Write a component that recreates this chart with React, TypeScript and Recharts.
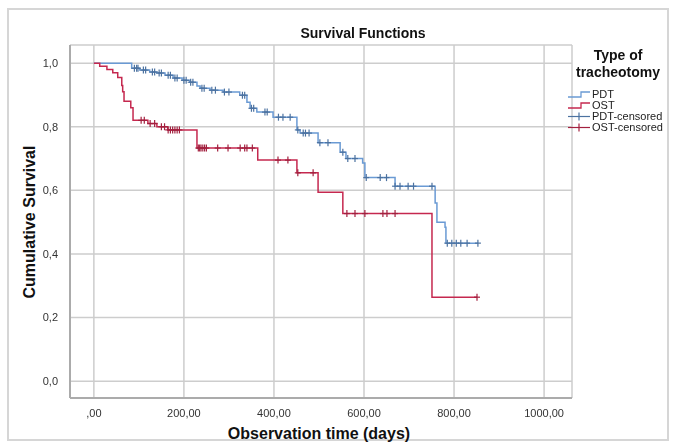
import { ComposedChart, Line, Scatter, XAxis, YAxis, CartesianGrid } from 'recharts';

// Kaplan-Meier steps (days, cumulative survival)
const pdtTimes = [0, 84, 102, 124, 140, 158, 176, 196, 213, 229, 236, 258, 287, 324, 340, 347, 362, 398, 451, 458, 498, 547, 560, 597, 602, 669, 758, 762, 780, 782, 853];
const pdtSurvival = [1.0, 0.984, 0.978, 0.972, 0.969, 0.962, 0.953, 0.946, 0.94, 0.928, 0.921, 0.915, 0.909, 0.899, 0.877, 0.858, 0.846, 0.83, 0.79, 0.78, 0.75, 0.72, 0.7, 0.686, 0.64, 0.613, 0.56, 0.5, 0.484, 0.434, 0.434];

const ostTimes = [0, 13, 29, 42, 53, 62, 64, 67, 82, 87, 120, 140, 164, 229, 364, 451, 498, 553, 751, 851];
const ostSurvival = [1.0, 0.99, 0.98, 0.97, 0.955, 0.93, 0.91, 0.88, 0.86, 0.82, 0.81, 0.8, 0.79, 0.733, 0.695, 0.655, 0.594, 0.527, 0.264, 0.264];

// censored observation times
const pdtCensored = [90, 95, 98, 110, 115, 130, 135, 145, 150, 165, 170, 180, 185, 200, 205, 215, 220, 240, 245, 262, 270, 290, 300, 330, 335, 350, 355, 380, 385, 410, 420, 436, 453, 465, 470, 478, 502, 520, 553, 564, 580, 605, 636, 650, 669, 680, 698, 710, 751, 785, 795, 805, 815, 829, 853];
const ostCensored = [105, 112, 125, 135, 150, 157, 165, 170, 175, 180, 185, 190, 232, 235, 238, 242, 246, 250, 275, 298, 325, 335, 340, 352, 409, 431, 453, 487, 562, 580, 602, 642, 651, 669, 851];

const xTicks = [0, 200, 400, 600, 800, 1000];
const yTicks = [0, 0.2, 0.4, 0.6, 0.8, 1.0];

const PDT_COLOR = '#6a9ad4';
const PDT_MARK = '#4c72a0';
const OST_COLOR = '#c5284f';
const OST_MARK = '#a3203f';
const FONT = '"Liberation Sans", Arial, sans-serif';

const toSteps = (times: number[], surv: number[]) => times.map((t, i) => ({ t, s: surv[i] }));

// value of the step curve at time t
const stepAt = (times: number[], surv: number[], t: number) => {
  let v = surv[0];
  times.forEach((tt, i) => {
    if (tt <= t) v = surv[i];
  });
  return v;
};

const pdtData = toSteps(pdtTimes, pdtSurvival);
const ostData = toSteps(ostTimes, ostSurvival);
const pdtMarks = pdtCensored.map(t => ({ t, s: stepAt(pdtTimes, pdtSurvival, t) }));
const ostMarks = ostCensored.map(t => ({ t, s: stepAt(ostTimes, ostSurvival, t) }));

const fmtX = (v: number) => (v === 0 ? ',00' : `${v},00`);
const fmtY = (v: number) => v.toFixed(1).replace('.', ',');

const cross = (color: string) => (props: any) => {
  const { cx, cy } = props;
  return (
    <g stroke={color} strokeWidth={1.2}>
      <line x1={cx - 3} y1={cy} x2={cx + 3} y2={cy} />
      <line x1={cx} y1={cy - 3.5} x2={cx} y2={cy + 3.5} />
    </g>
  );
};

function LegendBox() {
  const items = [
    { label: 'PDT', color: PDT_COLOR, kind: 'step' },
    { label: 'OST', color: OST_COLOR, kind: 'step' },
    { label: 'PDT-censored', color: PDT_MARK, kind: 'cross' },
    { label: 'OST-censored', color: OST_MARK, kind: 'cross' },
  ];
  return (
    <div style={{ position: 'absolute', left: 566, top: 47, width: 104, fontFamily: FONT }}>
      <div style={{ fontWeight: 'bold', fontSize: 14, lineHeight: '17px', textAlign: 'center', color: '#111' }}>
        Type of
        <br />
        tracheotomy
      </div>
      <div style={{ marginTop: 8 }}>
        {items.map(it => (
          <div key={it.label} style={{ display: 'flex', alignItems: 'center', height: 11 }}>
            <svg width={26} height={11}>
              {it.kind === 'step' ? (
                <polyline points="2,8 15,8 15,3 24,3" fill="none" stroke={it.color} strokeWidth={1.3} />
              ) : (
                <g stroke={it.color} strokeWidth={1.2}>
                  <line x1={2} y1={5.5} x2={24} y2={5.5} />
                  <line x1={13} y1={1.5} x2={13} y2={9.5} />
                </g>
              )}
            </svg>
            <span style={{ fontSize: 11, color: '#222', lineHeight: '11px' }}>{it.label}</span>
          </div>
        ))}
      </div>
    </div>
  );
}

export default function App() {
  return (
    <div style={{ position: 'fixed', left: 0, top: 0, width: 675, height: 445, background: '#fff' }}>
      <div
        style={{
          position: 'absolute',
          left: 7,
          top: 8,
          width: 658,
          height: 429,
          border: '2px solid #d6d6d6',
        }}
      />
      <div
        style={{
          position: 'absolute',
          left: 0,
          width: 726,
          top: 25,
          textAlign: 'center',
          fontFamily: FONT,
          fontWeight: 'bold',
          fontSize: 14,
          color: '#111',
        }}
      >
        Survival Functions
      </div>
      <div
        style={{
          position: 'absolute',
          left: 30,
          top: 222,
          transform: 'translate(-50%, -50%) rotate(-90deg)',
          whiteSpace: 'nowrap',
          fontFamily: FONT,
          fontWeight: 'bold',
          fontSize: 16,
          color: '#111',
        }}
      >
        Cumulative Survival
      </div>
      <div
        style={{
          position: 'absolute',
          left: 319,
          top: 434,
          transform: 'translate(-50%, -50%)',
          whiteSpace: 'nowrap',
          fontFamily: FONT,
          fontWeight: 'bold',
          fontSize: 16,
          color: '#111',
        }}
      >
        Observation time (days)
      </div>
      <div style={{ position: 'absolute', left: 0, top: 0 }}>
        <ComposedChart width={675} height={445} margin={{ top: 45, right: 103, bottom: 17, left: 30 }}>
          <CartesianGrid stroke="#cdcdcd" strokeWidth={1.5} />
          <XAxis
            type="number"
            dataKey="t"
            domain={[-53, 1062]}
            allowDataOverflow
            ticks={xTicks}
            tickFormatter={fmtX}
            height={30}
            tickLine={false}
            tickSize={0}
            tickMargin={11}
            tick={{ fill: '#333', fontSize: 11, fontFamily: FONT }}
            axisLine={{ stroke: '#ababab', strokeWidth: 2 }}
          />
          <YAxis
            type="number"
            dataKey="s"
            domain={[-0.053, 1.057]}
            allowDataOverflow
            ticks={yTicks}
            tickFormatter={fmtY}
            width={40}
            tickLine={false}
            tickSize={0}
            tickMargin={12}
            tick={{ fill: '#333', fontSize: 11, fontFamily: FONT }}
            axisLine={{ stroke: '#ababab', strokeWidth: 2 }}
          />
          <Line
            data={pdtData}
            dataKey="s"
            type="stepAfter"
            stroke={PDT_COLOR}
            strokeWidth={1.5}
            dot={false}
            isAnimationActive={false}
          />
          <Line
            data={ostData}
            dataKey="s"
            type="stepAfter"
            stroke={OST_COLOR}
            strokeWidth={1.5}
            dot={false}
            isAnimationActive={false}
          />
          <Scatter data={pdtMarks} dataKey="s" shape={cross(PDT_MARK)} isAnimationActive={false} />
          <Scatter data={ostMarks} dataKey="s" shape={cross(OST_MARK)} isAnimationActive={false} />
        </ComposedChart>
      </div>
      <LegendBox />
    </div>
  );
}
